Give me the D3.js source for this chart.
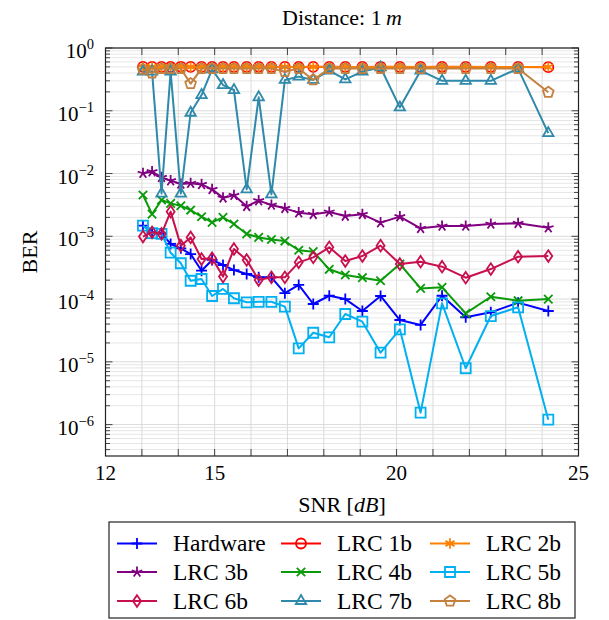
<!DOCTYPE html>
<html>
<head>
<meta charset="utf-8">
<script src="https://cdn.jsdelivr.net/npm/d3@7"></script>
<style>
  html, body { margin: 0; padding: 0; background: #fff; }
  svg { display: block; }
</style>
</head>
<body>
<svg id="chart" width="609" height="620"></svg>
<script>
// ---------------- data ----------------
const snr = [13.03, 13.28, 13.54, 13.79, 14.07, 14.34, 14.64, 14.93, 15.23, 15.53, 15.88, 16.21, 16.56, 16.93,
             17.31, 17.71, 18.15, 18.59, 19.06, 19.56, 20.09, 20.66, 21.25, 21.90, 22.59, 23.34, 24.17];

const berHardware = [0.00148, 0.00116, 0.00112, 0.000755, 0.000644, 0.000522, 0.000283, 0.00042, 0.000349, 0.00029,
                     0.000251, 0.000222, 0.000222, 0.000124, 0.000168, 0.0000835, 0.000113, 0.0001, 0.0000646, 0.000112,
                     0.0000464, 0.0000387, 0.000113, 0.0000513, 0.0000615, 0.0000877, 0.0000646];
const berLRC1b = [0.501, 0.499, 0.500, 0.498, 0.502, 0.500, 0.499, 0.501, 0.500, 0.499, 0.500, 0.501, 0.499, 0.500,
                  0.498, 0.500, 0.501, 0.499, 0.500, 0.502, 0.499, 0.500, 0.501, 0.500, 0.499, 0.500, 0.495];
const berLRC2b = [0.498, 0.502, 0.499, 0.500, 0.501, 0.499, 0.500, 0.498, 0.501, 0.500, 0.499, 0.500, 0.502, 0.499,
                  0.500, 0.501, 0.499, 0.500, 0.498, 0.500, 0.501, 0.499, 0.500, 0.502, 0.500, 0.499, 0.497];
const berLRC3b = [0.0101, 0.0107, 0.0087, 0.0077, 0.0068, 0.0070, 0.0067, 0.0056, 0.0041, 0.0045, 0.0030, 0.0037,
                  0.00315, 0.00279, 0.00238, 0.00224, 0.00244, 0.0021, 0.00224, 0.00165, 0.00206, 0.00134, 0.00146,
                  0.00146, 0.00157, 0.00161, 0.00137];
const berLRC4b = [0.00455, 0.00226, 0.00379, 0.00335, 0.00307, 0.00262, 0.00205, 0.00167, 0.0020, 0.00157, 0.00109,
                  0.00096, 0.00089, 0.00084, 0.00060, 0.00057, 0.000298, 0.000242, 0.000219, 0.000196, 0.000362,
                  0.000148, 0.000154, 0.0000593, 0.000109, 0.0000942, 0.0001];
const berLRC5b = [0.00148, 0.00112, 0.00109, 0.000548, 0.000372, 0.000196, 0.000209, 0.000112, 0.000145, 0.000103,
                  0.0000889, 0.0000905, 0.0000905, 0.0000757, 0.0000164, 0.0000291, 0.0000246, 0.0000578, 0.0000436,
                  0.000014, 0.000033, 0.00000155, 0.0000855, 0.0000079, 0.0000537, 0.000074, 0.0000012];
const berLRC6b = [0.00099, 0.00116, 0.00109, 0.00247, 0.00071, 0.00096, 0.000435, 0.000447, 0.000228, 0.000628,
                  0.00042, 0.000201, 0.000222, 0.000222, 0.000385, 0.000462, 0.000668, 0.000404, 0.000485, 0.00071,
                  0.000362, 0.000394, 0.000328, 0.000219, 0.000301, 0.000473, 0.000485];
const berLRC7b = [0.42, 0.42, 0.0048, 0.42, 0.0048, 0.093, 0.178, 0.457, 0.257, 0.214, 0.0056, 0.164, 0.00467, 0.31,
                  0.35, 0.31, 0.435, 0.317, 0.42, 0.49, 0.113, 0.435, 0.30, 0.30, 0.30, 0.47, 0.044];
const berLRC8b = [0.457, 0.40, 0.47, 0.47, 0.47, 0.27, 0.47, 0.47, 0.47, 0.47, 0.47, 0.47, 0.47, 0.42, 0.47, 0.31,
                  0.47, 0.47, 0.47, 0.47, 0.47, 0.47, 0.47, 0.47, 0.47, 0.47, 0.197];

const seriesNames = ["Hardware", "LRC 1b", "LRC 2b", "LRC 3b", "LRC 4b", "LRC 5b", "LRC 6b", "LRC 7b", "LRC 8b"];
const seriesValues = [berHardware, berLRC1b, berLRC2b, berLRC3b, berLRC4b, berLRC5b, berLRC6b, berLRC7b, berLRC8b];
const seriesColors = ["#0000ff", "#ff0000", "#ff8000", "#800080", "#0a9a0a", "#00b0f0", "#c8104e", "#2e89aa", "#c4803e"];
const seriesMarks = ["plus", "circle", "asterisk", "star", "cross", "square", "diamond", "triangle", "pentagon"];

const xTickLabels = [12, 15, 20, 25];
const xGridValues = [12, 13, 14, 15, 16, 17, 18, 19, 20, 21, 22, 23, 24, 25];
const yDecadeExps = [0, -1, -2, -3, -4, -5, -6];

// ---------------- layout ----------------
const FONT = "Liberation Serif";
const L = 105.5, R = 578.5, T = 48, B = 456;
const svg = d3.select("#chart").attr("font-family", FONT);
const x = d3.scaleLinear().domain([12, 25]).range([L, R]);
const y = d3.scaleLog().domain([Math.pow(10, -6.5), 1]).range([B, T]);

// minor tick values
const minorVals = [];
for (let k = -7; k <= -1; k++) {
  for (let m = 2; m <= 9; m++) {
    const v = m * Math.pow(10, k);
    if (v >= y.domain()[0] && v <= 1) minorVals.push(v);
  }
}
const majorVals = yDecadeExps.map(e => Math.pow(10, e));

// grid
const grid = svg.append("g");
grid.selectAll(".ymin").data(minorVals).enter().append("line")
  .attr("x1", L).attr("x2", R).attr("y1", d => y(d)).attr("y2", d => y(d))
  .attr("stroke", "#e6e6e6").attr("stroke-width", 1);
grid.selectAll(".ymaj").data(majorVals).enter().append("line")
  .attr("x1", L).attr("x2", R).attr("y1", d => y(d)).attr("y2", d => y(d))
  .attr("stroke", "#dadada").attr("stroke-width", 1);
grid.selectAll(".xg").data(xGridValues).enter().append("line")
  .attr("x1", d => x(d)).attr("x2", d => x(d)).attr("y1", T).attr("y2", B)
  .attr("stroke", "#dadada").attr("stroke-width", 1);

// ticks
const ticks = svg.append("g").attr("stroke", "#444").attr("stroke-width", 1);
xGridValues.forEach(v => {
  ticks.append("line").attr("x1", x(v)).attr("x2", x(v)).attr("y1", B).attr("y2", B - 7);
  ticks.append("line").attr("x1", x(v)).attr("x2", x(v)).attr("y1", T).attr("y2", T + 7);
});
majorVals.forEach(v => {
  ticks.append("line").attr("x1", L).attr("x2", L + 7).attr("y1", y(v)).attr("y2", y(v));
  ticks.append("line").attr("x1", R).attr("x2", R - 7).attr("y1", y(v)).attr("y2", y(v));
});
minorVals.forEach(v => {
  ticks.append("line").attr("x1", L).attr("x2", L + 4.5).attr("y1", y(v)).attr("y2", y(v));
  ticks.append("line").attr("x1", R).attr("x2", R - 4.5).attr("y1", y(v)).attr("y2", y(v));
});

// ---------------- markers ----------------
function markPath(type) {
  const p = d3.path();
  switch (type) {
    case "plus": { const s = 5.5; p.moveTo(-s, 0); p.lineTo(s, 0); p.moveTo(0, -s); p.lineTo(0, s); break; }
    case "cross": { const s = 4.2; p.moveTo(-s, -s); p.lineTo(s, s); p.moveTo(-s, s); p.lineTo(s, -s); break; }
    case "circle": { p.arc(0, 0, 5, 0, 2 * Math.PI); p.closePath(); break; }
    case "asterisk": { const s = 5.2; for (let i = 0; i < 3; i++) { const a = Math.PI / 2 + i * Math.PI / 3;
        p.moveTo(s * Math.cos(a), -s * Math.sin(a)); p.lineTo(-s * Math.cos(a), s * Math.sin(a)); } break; }
    case "star": { const s = 5.6; for (let i = 0; i < 5; i++) { const a = Math.PI / 2 + i * 2 * Math.PI / 5;
        p.moveTo(0, 0); p.lineTo(s * Math.cos(a), -s * Math.sin(a)); } break; }
    case "square": { const s = 5; p.rect(-s, -s, 2 * s, 2 * s); break; }
    case "diamond": { const w = 4, h = 5.8; p.moveTo(0, -h); p.lineTo(w, 0); p.lineTo(0, h); p.lineTo(-w, 0); p.closePath(); break; }
    case "triangle": { const r = 6; p.moveTo(0, -r); p.lineTo(r * 0.866, r * 0.5); p.lineTo(-r * 0.866, r * 0.5); p.closePath(); break; }
    case "pentagon": { const r = 5.6; for (let i = 0; i < 5; i++) { const a = Math.PI / 2 + i * 2 * Math.PI / 5;
        const px = r * Math.cos(a), py = -r * Math.sin(a); if (i === 0) p.moveTo(px, py); else p.lineTo(px, py); } p.closePath(); break; }
  }
  return p.toString();
}

// ---------------- series ----------------
const plot = svg.append("g");
const line = d3.line().x(d => x(d[0])).y(d => y(d[1]));

seriesValues.forEach((vals, i) => {
  const pts = snr.map((s, j) => [s, vals[j]]);
  const g = plot.append("g");
  g.append("path").datum(pts).attr("d", line).attr("fill", "none")
    .attr("stroke", seriesColors[i]).attr("stroke-width", 2).attr("stroke-linejoin", "round");
  g.selectAll("path.mk").data(pts).enter().append("path").attr("class", "mk")
    .attr("d", markPath(seriesMarks[i]))
    .attr("transform", d => `translate(${x(d[0])},${y(d[1])})`)
    .attr("fill", "none").attr("stroke", seriesColors[i]).attr("stroke-width", 1.8);
});

// frame
svg.append("rect").attr("x", L).attr("y", T).attr("width", R - L).attr("height", B - T)
  .attr("fill", "none").attr("stroke", "#222").attr("stroke-width", 1.2);

// ---------------- labels ----------------
const fs = 21;
svg.append("g").selectAll("text").data(xTickLabels).enter().append("text")
  .attr("x", d => x(d)).attr("y", 480).attr("text-anchor", "middle")
  .attr("font-family", FONT).attr("font-size", fs).text(d => d);

const yl = svg.append("g");
yDecadeExps.forEach(e => {
  const t = yl.append("text").attr("x", 94).attr("y", y(Math.pow(10, e)) + 10)
    .attr("text-anchor", "end").attr("font-family", FONT).attr("font-size", fs);
  t.append("tspan").text("10");
  t.append("tspan").attr("dy", -9).attr("font-size", 14.5).text(e === 0 ? "0" : "\u2212" + (-e));
});

// title
const title = svg.append("text").attr("x", 342).attr("y", 25).attr("text-anchor", "middle")
  .attr("font-family", FONT).attr("font-size", 22);
title.append("tspan").text("Distance: 1\u2009");
title.append("tspan").attr("font-style", "italic").text("m");

// x label
const xl = svg.append("text").attr("x", 342).attr("y", 512).attr("text-anchor", "middle")
  .attr("font-family", FONT).attr("font-size", 22);
xl.append("tspan").text("SNR [");
xl.append("tspan").attr("font-style", "italic").text("dB");
xl.append("tspan").text("]");

// y label
svg.append("text").attr("transform", `translate(37,${(T + B) / 2}) rotate(-90)`)
  .attr("text-anchor", "middle").attr("font-family", FONT).attr("font-size", 22).text("BER");

// ---------------- legend ----------------
const lg = svg.append("g");
lg.append("rect").attr("x", 109).attr("y", 522).attr("width", 466).attr("height", 96)
  .attr("fill", "#fff").attr("stroke", "#222").attr("stroke-width", 1.2);
const colLineX = [117, 281, 430];
const colTextX = [173, 337, 486];
const rowY = [543.5, 572, 601];
seriesNames.forEach((name, i) => {
  const c = i % 3, r = Math.floor(i / 3);
  const x0 = colLineX[c], yy = rowY[r];
  lg.append("line").attr("x1", x0).attr("x2", x0 + 40).attr("y1", yy).attr("y2", yy)
    .attr("stroke", seriesColors[i]).attr("stroke-width", 2);
  lg.append("path").attr("d", markPath(seriesMarks[i])).attr("transform", `translate(${x0 + 20},${yy})`)
    .attr("fill", "none").attr("stroke", seriesColors[i]).attr("stroke-width", 1.8);
  lg.append("text").attr("x", colTextX[c]).attr("y", yy + 7.5).attr("font-family", FONT)
    .attr("font-size", 23.5).text(name);
});
</script>
</body>
</html>
